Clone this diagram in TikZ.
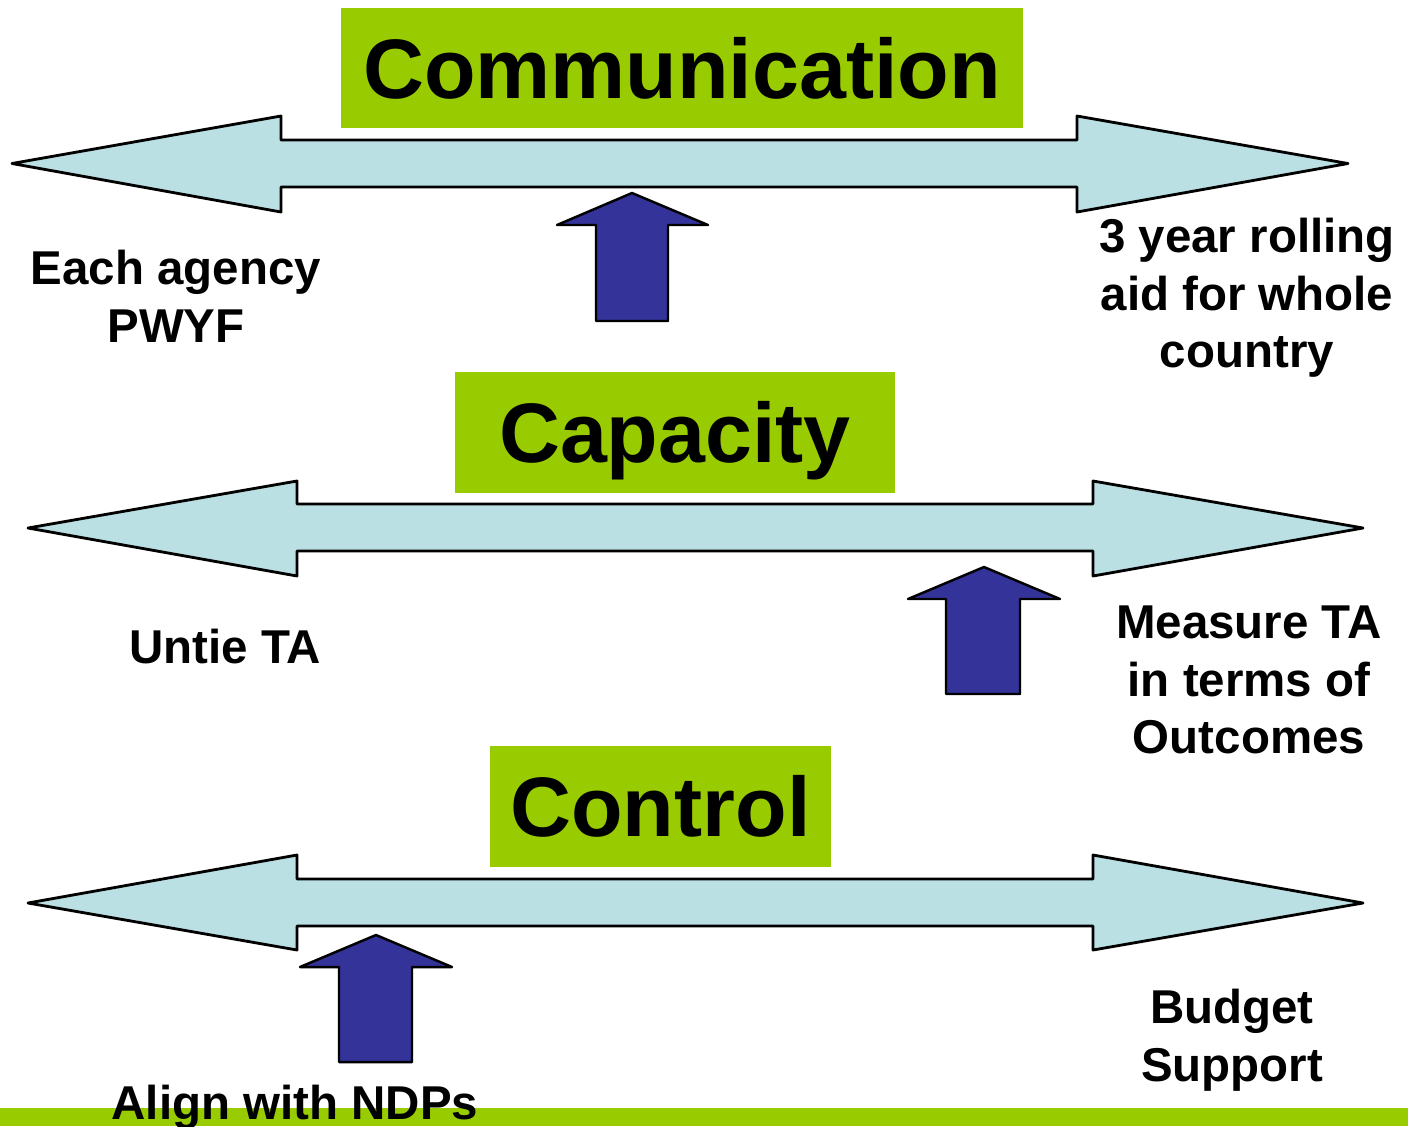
\documentclass[tikz,border=0pt]{standalone}
\usepackage{fontspec}
\setmainfont{Liberation Sans}
\definecolor{aidgreen}{HTML}{99CC00}
\definecolor{arrowcyan}{HTML}{BBE0E3}
\definecolor{arrowblue}{HTML}{333399}

\begin{document}
\begin{tikzpicture}[
		x=0.01cm, y=-0.01cm,
		every node/.style={font=\bfseries},
		title/.style={fill=aidgreen, inner sep=0pt, text height=0.6cm, text depth=0cm,
			font=\bfseries\fontsize{24}{29}\selectfont},
		note/.style={align=center, font=\bfseries\fontsize{13.5}{16.4}\selectfont},
		wayarrow/.style={fill=arrowcyan, draw=black, line width=0.8pt, line join=round},
		uparrow/.style={fill=arrowblue, draw=black, line width=0.7pt, line join=round}
	]
  \useasboundingbox (0,0) rectangle (1408,1126);
  \draw [wayarrow] (12,163.5) -- (281,116) -- (281,140) -- (1077,140) -- (1077,116) -- (1348,163.5)
    -- (1077,212) -- (1077,187) -- (281,187) -- (281,212) -- cycle;
  \draw [wayarrow] (28,528) -- (297,481) -- (297,504) -- (1093,504) -- (1093,481) -- (1363,528)
    -- (1093,576) -- (1093,551) -- (297,551) -- (297,576) -- cycle;
  \draw [wayarrow] (28,903) -- (297,855) -- (297,879) -- (1093,879) -- (1093,855) -- (1363,903)
    -- (1093,950) -- (1093,926) -- (297,926) -- (297,950) -- cycle;
  \draw [uparrow] (632,193) -- (708,225) -- (668,225) -- (668,321) -- (596,321) -- (596,225) -- (557,225) -- cycle;
  \draw [uparrow] (984,567) -- (1060,599) -- (1020,599) -- (1020,694) -- (946,694) -- (946,599) -- (908,599) -- cycle;
  \draw [uparrow] (376,935) -- (452,967) -- (412,967) -- (412,1062) -- (339,1062) -- (339,967) -- (300,967) -- cycle;
  \fill [aidgreen] (0,1108) rectangle (1408,1126);
  \node (comm) [title, minimum width=6.82cm, minimum height=1.2cm] at (682, 68) {Communication};
  \node (capacity) [title, minimum width=4.4cm, minimum height=1.21cm] at (675, 432.5) {Capacity};
  \node (control) [title, minimum width=3.41cm, minimum height=1.21cm] at (660.5, 806.5) {Control};
  \node (agency) [note] at (176, 296) {Each agency\\PWYF};
  \node (rolling) [note] at (1247, 298) {3 year rolling\\aid for whole\\country};
  \node (untie) [note] at (225, 647) {Untie TA};
  \node (measure) [note] at (1249, 680) {Measure TA\\in terms of\\Outcomes};
  \node (budget) [note] at (1232, 1040) {Budget\\Support};
  \node (ndps) [note] at (295, 1107) {Align with NDPs};
\end{tikzpicture}
\end{document}
